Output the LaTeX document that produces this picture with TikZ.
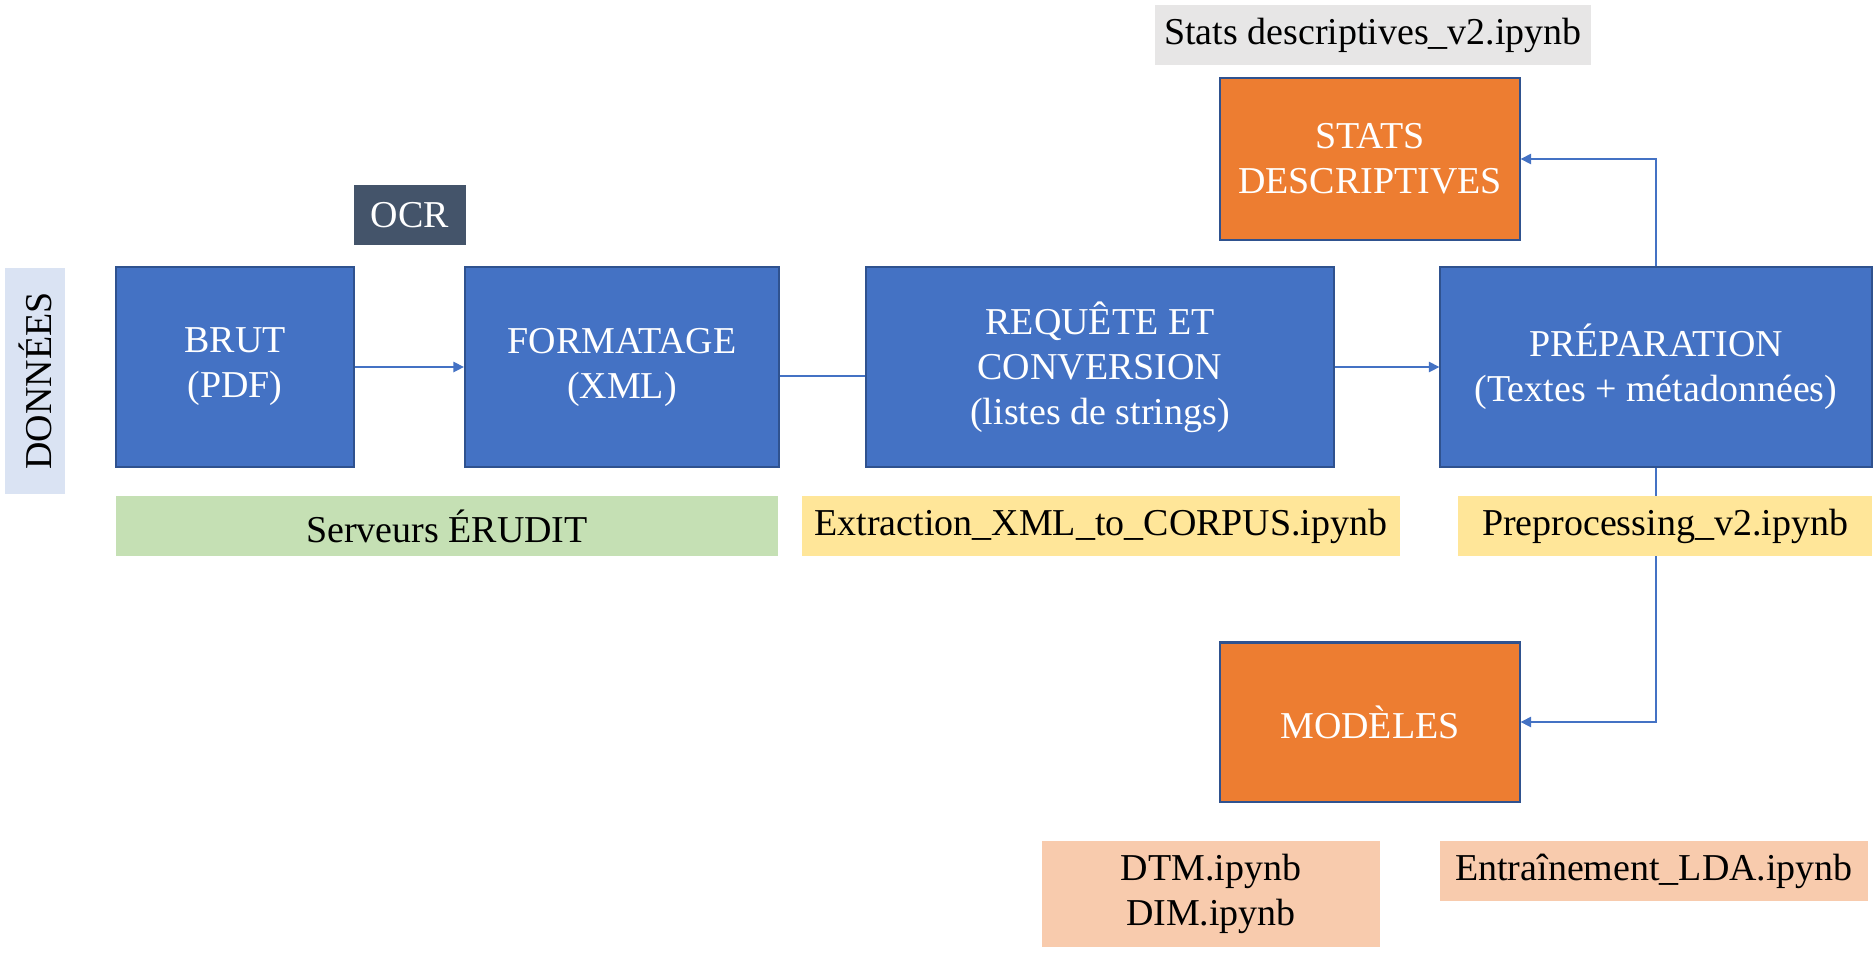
\documentclass[tikz,border=0pt]{standalone}
\usepackage{fontspec}
\setmainfont{Liberation Serif}
\usetikzlibrary{arrows.meta}
\definecolor{boxblue}{HTML}{4472C4}
\definecolor{edgeblue}{HTML}{2F528F}
\definecolor{boxorange}{HTML}{ED7D31}
\definecolor{ocrgrey}{HTML}{44546A}
\definecolor{donblue}{HTML}{DAE3F3}
\definecolor{srvgreen}{HTML}{C5E0B4}
\definecolor{nbyellow}{HTML}{FFE699}
\definecolor{nbgrey}{HTML}{E7E6E6}
\definecolor{nbpeach}{HTML}{F8CBAD}
\begin{document}
\begin{tikzpicture}[x=0.01cm, y=-0.01cm, font=\fontsize{10.8}{12.8}\selectfont,
    box/.style = {draw=edgeblue, line width=0.6pt, fill=#1, text=white, align=center, inner sep=0pt},
    tag/.style = {fill=#1, align=center, inner sep=0pt, minimum height=0.6cm},
    flow/.style = {draw=boxblue, line width=0.4pt}]
    \useasboundingbox (0,0) rectangle (1874,963);
    % main chain
    \node[tag=donblue, rotate=90, minimum width=2.26cm] (donnees) at (35,381) {DONNÉES};
    \node[box=boxblue, minimum width=2.38cm, minimum height=2cm] (brut) at (235,367) {BRUT\\(PDF)};
    \node[box=boxblue, minimum width=3.14cm, minimum height=2cm] (fmt) at (622,367) {FORMATAGE\\(XML)};
    \node[box=boxblue, minimum width=4.68cm, minimum height=2cm] (req) at (1100,367) {REQUÊTE ET\\CONVERSION\\(listes de strings)};
    \node[box=boxblue, minimum width=4.31cm, minimum height=2cm] (prep) at (1656,367) {PRÉPARATION\\(Textes + métadonnées)};
    \node[box=boxorange, minimum width=2.99cm, minimum height=1.62cm] (stats) at (1370,159) {STATS\\DESCRIPTIVES};
    \node[box=boxorange, minimum width=2.99cm, minimum height=1.59cm] (mod) at (1370,722) {MODÈLES};
    % connectors
    \draw[flow, -{Triangle[length=3pt, width=3pt]}] (brut) -- (fmt);
    \draw[flow] ([yshift=-0.09cm]fmt.east) -- ([yshift=-0.09cm]req.west);
    \draw[flow, -{Triangle[length=3pt, width=3pt]}] (req) -- (prep);
    \draw[flow, -{Triangle[length=3pt, width=3pt]}] (prep.north) |- (stats.east);
    \draw[flow, -{Triangle[length=3pt, width=3pt]}] (prep.south) |- (mod.east);
    % notebooks and labels
    \node[tag=ocrgrey, text=white, minimum width=1.11cm, minimum height=0.59cm] (ocr) at (410,215) {OCR};
    \node[tag=nbgrey, minimum width=4.35cm] (statsnb) at (1373,35) {Stats descriptives\_v2.ipynb};
    \node[tag=srvgreen, minimum width=6.61cm] (erudit) at (447,526) {Serveurs ÉRUDIT};
    \node[tag=nbyellow, minimum width=5.98cm] (extr) at (1101,526) {Extraction\_XML\_to\_CORPUS.ipynb};
    \node[tag=nbyellow, minimum width=4.14cm] (prepnb) at (1665,526) {Preprocessing\_v2.ipynb};
    \node[tag=nbpeach, minimum width=3.37cm, minimum height=1.06cm] (dtm) at (1211,894) {DTM.ipynb\\DIM.ipynb};
    \node[tag=nbpeach, minimum width=4.28cm] (lda) at (1654,871) {Entraînement\_LDA.ipynb};
\end{tikzpicture}
\end{document}
